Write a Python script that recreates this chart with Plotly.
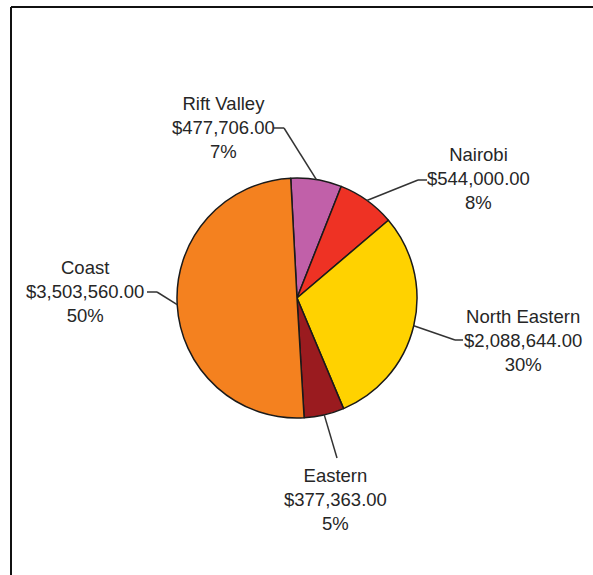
import math
import plotly.graph_objects as go

# ---- data ----
regions = ["Rift Valley", "Nairobi", "North Eastern", "Eastern", "Coast"]
amounts = [477706.00, 544000.00, 2088644.00, 377363.00, 3503560.00]
percent_labels = ["7%", "8%", "30%", "5%", "50%"]
colors = ["#C160A9", "#EE3224", "#FFD200", "#9A1B1F", "#F4811F"]

W, H = 593, 575
CX, CY, R = 297, 298, 120
ROT = -3


def px(x):
    return x / W


def py(y):
    return 1 - y / H


fig = go.Figure(go.Pie(
    labels=regions,
    values=amounts,
    sort=False,
    direction="clockwise",
    rotation=ROT,
    marker=dict(colors=colors, line=dict(color="#1a1a1a", width=1.5)),
    textinfo="none",
    hoverinfo="skip",
    showlegend=False,
    domain=dict(x=[px(CX - R), px(CX + R)], y=[py(CY + R), py(CY - R)]),
))

# label placement (pixel positions): elbow point, dash end, text centre
placement = {
    "Rift Valley": dict(elbow=(284, 128), dash=(274, 128), text=(223, 128)),
    "Nairobi": dict(elbow=(418, 180), dash=(427, 180), text=(478, 178)),
    "North Eastern": dict(elbow=(455, 340), dash=(463, 340), text=(523, 340)),
    "Eastern": dict(elbow=(337, 458), dash=None, text=(335, 499)),
    "Coast": dict(elbow=(157, 292), dash=(147, 292), text=(85, 291)),
}

total = sum(amounts)
cum = 0.0
shapes = []
annotations = []
for name, val, pct in zip(regions, amounts, percent_labels):
    mid = math.radians(ROT + 360 * (cum + val / 2) / total)
    cum += val
    sx = CX + R * math.sin(mid)
    sy = CY - R * math.cos(mid)
    p = placement[name]
    ex, ey = p["elbow"]
    line = dict(type="line", xref="paper", yref="paper",
                line=dict(color="#333333", width=1.5))
    shapes.append(dict(line, x0=px(sx), y0=py(sy), x1=px(ex), y1=py(ey)))
    if p["dash"] is not None:
        dx, dy = p["dash"]
        shapes.append(dict(line, x0=px(ex), y0=py(ey), x1=px(dx), y1=py(dy)))
    tx, ty = p["text"]
    annotations.append(dict(
        x=px(tx), y=py(ty), xref="paper", yref="paper",
        text=f"{name}<br>${val:,.2f}<br>{pct}",
        showarrow=False, xanchor="center", yanchor="middle", align="center",
        font=dict(family="Liberation Sans, Arial, sans-serif", size=18.5, color="#262626"),
    ))

# frame lines (top and left)
shapes.append(dict(type="line", xref="paper", yref="paper",
                   x0=px(11), y0=py(7), x1=1, y1=py(7),
                   line=dict(color="#111111", width=2)))
shapes.append(dict(type="line", xref="paper", yref="paper",
                   x0=px(11), y0=py(7), x1=px(11), y1=0,
                   line=dict(color="#111111", width=2)))

fig.update_layout(
    width=W, height=H,
    margin=dict(l=0, r=0, t=0, b=0),
    paper_bgcolor="white",
    plot_bgcolor="white",
    shapes=shapes,
    annotations=annotations,
)

fig.write_html(
    "out.html",
    config={"displayModeBar": False},
    post_script="document.body.style.margin='0';document.body.style.overflow='hidden';",
)
